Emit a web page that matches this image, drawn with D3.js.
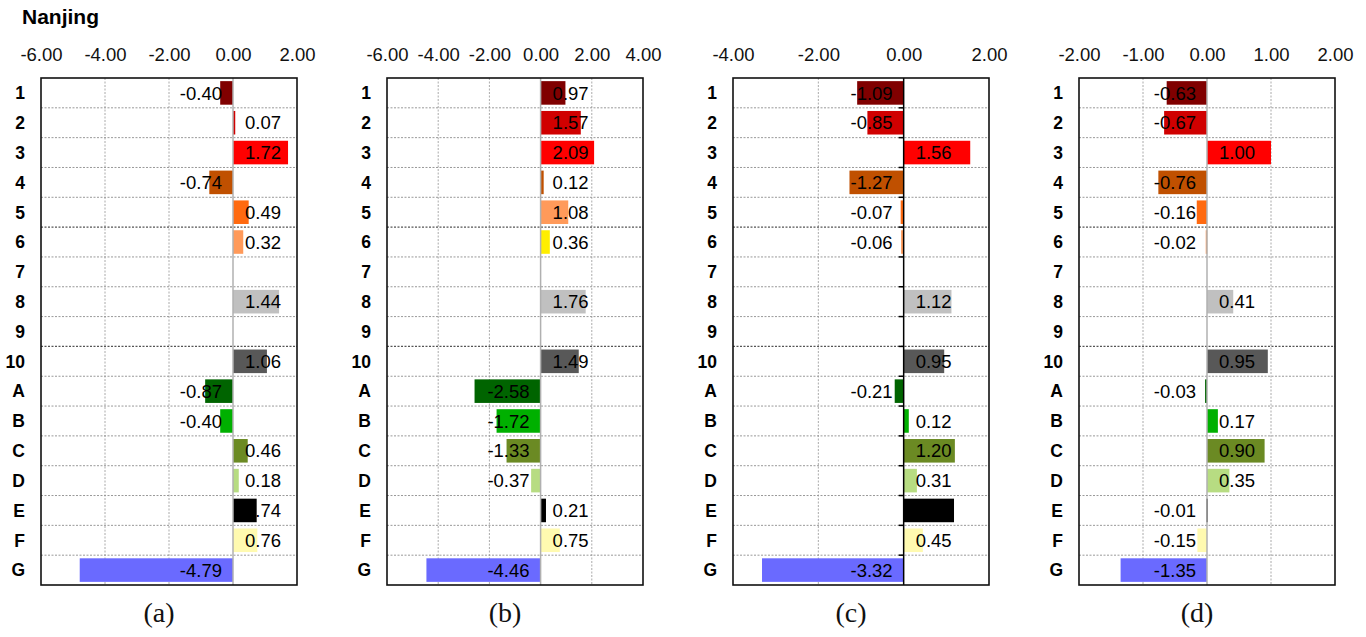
<!DOCTYPE html>
<html>
<head>
<meta charset="utf-8">
<script src="https://cdn.jsdelivr.net/npm/d3@7"></script>
<style>
  body { margin: 0; background: #fff; }
  svg { font-family: "Liberation Sans", Arial, sans-serif; }
</style>
</head>
<body>
<svg width="1366" height="637"></svg>
<script>
// categories (rows)
var categories = ["1", "2", "3", "4", "5", "6", "7", "8", "9", "10", "A", "B", "C", "D", "E", "F", "G"];

// values per panel, null = no bar
var valuesA = [-0.40, 0.07, 1.72, -0.74, 0.49, 0.32, null, 1.44, null, 1.06, -0.87, -0.40, 0.46, 0.18, 0.74, 0.76, -4.79];
var valuesB = [0.97, 1.57, 2.09, 0.12, 1.08, 0.36, null, 1.76, null, 1.49, -2.58, -1.72, -1.33, -0.37, 0.21, 0.75, -4.46];
var valuesC = [-1.09, -0.85, 1.56, -1.27, -0.07, -0.06, null, 1.12, null, 0.95, -0.21, 0.12, 1.20, 0.31, 1.18, 0.45, -3.32];
var valuesD = [-0.63, -0.67, 1.00, -0.76, -0.16, -0.02, null, 0.41, null, 0.95, -0.03, 0.17, 0.90, 0.35, -0.01, -0.15, -1.35];

// x axis ranges / tick labels
var domainA = [-6, 2], ticksA = [-6, -4, -2, 0, 2];
var domainB = [-6, 4], ticksB = [-6, -4, -2, 0, 2, 4];
var domainC = [-4, 2], ticksC = [-4, -2, 0, 2];
var domainD = [-2, 2], ticksD = [-2, -1, 0, 1, 2];

var captions = ["(a)", "(b)", "(c)", "(d)"];

// bar colours per category
var colors = ["#800000", "#d00000", "#ff0000", "#c05000", "#ff6a10", "#ff9a5a", "#ffffff",
              "#c0c0c0", "#ffffff", "#585858", "#006400", "#00b000", "#6b8a23", "#b7dc82",
              "#000000", "#fffab0", "#6a6aff"];
// panel (b) uses a shifted palette for rows 5 and 6
var colorsB = colors.slice();
colorsB[4] = "#ff9a5a";
colorsB[5] = "#ffee00";

// plain hyphen for negatives, like the original
var fmt = function(v) { return d3.format(".2f")(v).replace("\u2212", "-"); };

function main() {
    var svg = d3.select("svg");

    svg.append("text")
        .attr("x", 22)
        .attr("y", 24)
        .attr("font-size", "21px")
        .attr("font-weight", "bold")
        .attr("fill", "#000")
        .text("Nanjing");

    var panels = [
        { left: 41, values: valuesA, domain: domainA, ticks: ticksA, colors: colors, zeroAxis: false },
        { left: 387, values: valuesB, domain: domainB, ticks: ticksB, colors: colorsB, zeroAxis: false },
        { left: 733, values: valuesC, domain: domainC, ticks: ticksC, colors: colors, zeroAxis: true },
        { left: 1079, values: valuesD, domain: domainD, ticks: ticksD, colors: colors, zeroAxis: false }
    ];

    var top = 78, height = 507, width = 256;

    panels.forEach(function(p, i) {
        var g = svg.append("g").attr("transform", "translate(" + p.left + "," + top + ")");

        var x = d3.scaleLinear().domain(p.domain).range([0, width]);
        var y = d3.scaleBand().domain(categories).range([0, height]).paddingInner(0.21).paddingOuter(0.105);
        var step = y.step();
        var x0 = x(0);

        // vertical grid
        g.selectAll(".vgrid")
            .data(p.ticks.filter(function(t) { return t !== 0 && t !== p.domain[0] && t !== p.domain[1]; }))
            .enter().append("line")
            .attr("x1", function(d) { return x(d); })
            .attr("x2", function(d) { return x(d); })
            .attr("y1", 0).attr("y2", height)
            .attr("stroke", "#aaa")
            .attr("stroke-width", 1)
            .attr("stroke-dasharray", "2,1.5");

        // horizontal grid at row boundaries
        g.selectAll(".hgrid")
            .data(d3.range(1, categories.length))
            .enter().append("line")
            .attr("x1", 0).attr("x2", width)
            .attr("y1", function(d) { return d * step; })
            .attr("y2", function(d) { return d * step; })
            .attr("stroke", function(d) { return (d === 5 || d === 9) ? "#555" : "#999"; })
            .attr("stroke-width", function(d) { return (d === 5 || d === 9) ? 1.2 : 1; })
            .attr("stroke-dasharray", "2,1.5");

        // bars
        var rows = categories.map(function(c, k) { return { cat: c, v: p.values[k], col: p.colors[k] }; })
            .filter(function(d) { return d.v !== null; });

        g.selectAll(".bar")
            .data(rows)
            .enter().append("rect")
            .attr("x", function(d) { return Math.min(x(d.v), x0); })
            .attr("y", function(d) { return y(d.cat); })
            .attr("width", function(d) { return Math.max(1.5, Math.abs(x(d.v) - x0)); })
            .attr("height", y.bandwidth())
            .attr("fill", function(d) { return d.col; });

        // zero line
        g.append("line")
            .attr("x1", x0).attr("x2", x0)
            .attr("y1", 0).attr("y2", height)
            .attr("stroke", p.zeroAxis ? "#000" : "#b0b0b0")
            .attr("stroke-width", 1.5);

        if (p.zeroAxis) {
            g.selectAll(".ztick")
                .data(d3.range(1, categories.length))
                .enter().append("line")
                .attr("x1", x0 - 5).attr("x2", x0)
                .attr("y1", function(d) { return d * step; })
                .attr("y2", function(d) { return d * step; })
                .attr("stroke", "#000")
                .attr("stroke-width", 1.5);
        }

        // value labels
        g.selectAll(".val")
            .data(rows)
            .enter().append("text")
            .attr("x", function(d) { return d.v < 0 ? x0 - 11 : x0 + 12; })
            .attr("y", function(d) { return y(d.cat) + y.bandwidth() / 2; })
            .attr("dy", "0.36em")
            .attr("text-anchor", function(d) { return d.v < 0 ? "end" : "start"; })
            .attr("font-size", "18.5px")
            .attr("fill", "#000")
            .text(function(d) { return fmt(d.v); });

        // frame
        g.append("rect")
            .attr("x", 0).attr("y", 0)
            .attr("width", width).attr("height", height)
            .attr("fill", "none")
            .attr("stroke", "#111")
            .attr("stroke-width", 1.6);

        // top axis
        var ax = g.append("g")
            .call(d3.axisTop(x).tickValues(p.ticks).tickSize(0).tickPadding(17).tickFormat(fmt));
        ax.select(".domain").remove();
        ax.selectAll("text")
            .attr("font-size", "18.5px")
            .attr("font-family", "Liberation Sans, Arial, sans-serif")
            .attr("fill", "#111");

        // row labels
        g.selectAll(".cat")
            .data(categories)
            .enter().append("text")
            .attr("x", -16)
            .attr("y", function(d) { return y(d) + y.bandwidth() / 2; })
            .attr("dy", "0.36em")
            .attr("text-anchor", "end")
            .attr("font-size", "17.5px")
            .attr("font-weight", "bold")
            .attr("fill", "#000")
            .text(function(d) { return d; });

        // caption
        svg.append("text")
            .attr("x", p.left + width / 2 - 10)
            .attr("y", 622)
            .attr("text-anchor", "middle")
            .attr("font-family", "Liberation Serif, Times New Roman, serif")
            .attr("font-size", "28px")
            .attr("fill", "#111")
            .text(captions[i]);
    });
}

main();
</script>
</body>
</html>
